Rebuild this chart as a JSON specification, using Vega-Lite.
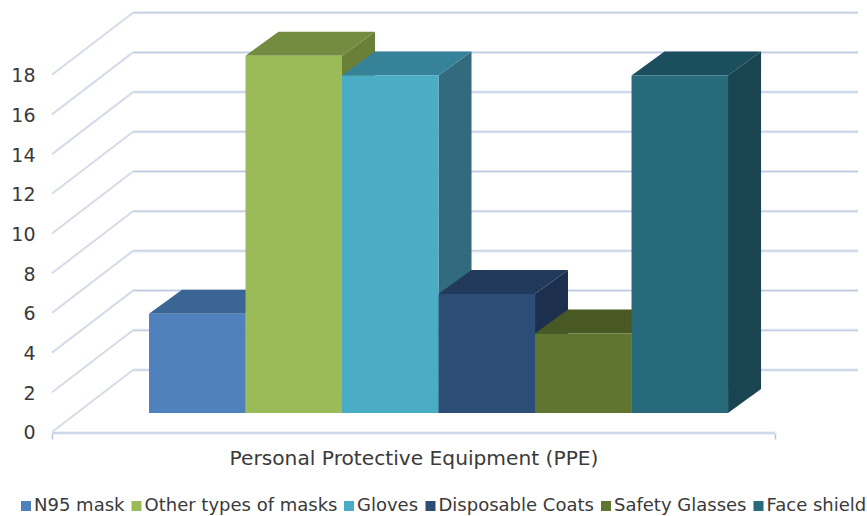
{
  "$schema": "https://vega.github.io/schema/vega-lite/v6.json",
  "width": 867,
  "height": 516,
  "padding": 0,
  "autosize": "none",
  "background": "white",
  "datasets": {
    "ppe": [
      {"item": "N95 mask", "value": 5},
      {"item": "Other types of masks", "value": 18},
      {"item": "Gloves", "value": 17},
      {"item": "Disposable Coats", "value": 6},
      {"item": "Safety Glasses", "value": 4},
      {"item": "Face shield", "value": 17}
    ],
    "ticks": [
      {"tick": 0}, {"tick": 2}, {"tick": 4}, {"tick": 6}, {"tick": 8},
      {"tick": 10}, {"tick": 12}, {"tick": 14}, {"tick": 16}, {"tick": 18}
    ],
    "floor": [{"edge": "front"}]
  },
  "encoding": {
    "x": {"type": "quantitative", "scale": {"domain": [-1.544, 7.44], "nice": false, "zero": false}},
    "y": {"type": "quantitative", "scale": {"domain": [-4.232, 21.763], "nice": false, "zero": false}}
  },
  "layer": [
    {
      "description": "Slanted part of the gridlines, running across the side wall",
      "data": {"name": "ticks"},
      "transform": [{"calculate": "datum.tick + 3.123", "as": "back"}, {"calculate": "-1.005", "as": "wallFront"}, {"calculate": "-0.166", "as": "wallBack"}],
      "mark": {"type": "rule", "stroke": "#D5DCE8", "strokeWidth": 2},
      "encoding": {
        "x": {"field": "wallFront", "type": "quantitative", "axis": {"values": [-1.005, 6.487], "orient": "bottom", "offset": -83, "domain": false, "grid": false, "labels": false, "ticks": true, "tickSize": 6, "tickColor": "#B4C3DA", "tickWidth": 1.5, "title": "Personal Protective Equipment (PPE)", "titleFont": "DejaVu Sans", "titleFontSize": 20.2, "titleFontWeight": "normal", "titleColor": "#3A3A3A", "titleX": 413.5, "titleY": 31, "titleAnchor": "middle", "titleAlign": "center", "titleBaseline": "alphabetic"}},
        "x2": {"field": "wallBack"},
        "y": {"field": "tick", "type": "quantitative", "axis": {"values": [0, 2, 4, 6, 8, 10, 12, 14, 16, 18], "title": null, "orient": "left", "offset": -35, "domain": false, "ticks": false, "grid": false, "labelPadding": 0, "labelOffset": 1, "labelFont": "DejaVu Sans", "labelFontSize": 19, "labelColor": "#3A3A3A"}},
        "y2": {"field": "back"}
      }
    },
    {
      "description": "Gridlines along the back wall, soft halo",
      "data": {"name": "ticks"},
      "transform": [{"calculate": "datum.tick + 3.123", "as": "back"}, {"calculate": "-0.166", "as": "wallBack"}, {"calculate": "7.347", "as": "wallEnd"}],
      "mark": {"type": "rule", "stroke": "#E6EBF3", "strokeWidth": 3},
      "encoding": {
        "x": {"field": "wallBack", "type": "quantitative"},
        "x2": {"field": "wallEnd"},
        "y": {"field": "back", "type": "quantitative"}
      }
    },
    {
      "description": "Gridlines along the back wall, core line",
      "data": {"name": "ticks"},
      "transform": [{"calculate": "datum.tick + 3.123", "as": "back"}, {"calculate": "-0.166", "as": "wallBack"}, {"calculate": "7.347", "as": "wallEnd"}],
      "mark": {"type": "rule", "stroke": "#B9C8DE", "strokeWidth": 1},
      "encoding": {
        "x": {"field": "wallBack", "type": "quantitative"},
        "x2": {"field": "wallEnd"},
        "y": {"field": "back", "type": "quantitative"}
      }
    },
    {
      "description": "Front edge of the floor, soft halo",
      "data": {"name": "floor"},
      "mark": {"type": "rule", "stroke": "#E0E7F1", "strokeWidth": 3},
      "encoding": {
        "x": {"datum": -1.005, "type": "quantitative"},
        "x2": {"datum": 6.487},
        "y": {"datum": -0.05, "type": "quantitative"}
      }
    },
    {
      "description": "Front edge of the floor, core line",
      "data": {"name": "floor"},
      "mark": {"type": "rule", "stroke": "#B9C8DE", "strokeWidth": 1},
      "encoding": {
        "x": {"datum": -1.005, "type": "quantitative"},
        "x2": {"datum": 6.487},
        "y": {"datum": -0.05, "type": "quantitative"}
      }
    },
    {
      "description": "Right-hand faces of the columns, sheared back along the depth axis",
      "data": {"name": "ppe"},
      "transform": [
        {"window": [{"op": "row_number", "as": "rank"}]},
        {"calculate": "[0, 1]", "as": "t"},
        {"flatten": ["t"]},
        {"calculate": "datum.rank + datum.t * 0.342", "as": "sx"},
        {"calculate": "0.957 + datum.t * 1.209", "as": "sy0"},
        {"calculate": "datum.value + datum.sy0", "as": "sy1"}
      ],
      "mark": {"type": "area", "interpolate": "linear"},
      "encoding": {
        "x": {"field": "sx", "type": "quantitative"},
        "y": {"field": "sy1", "type": "quantitative", "stack": null},
        "y2": {"field": "sy0"},
        "fill": {"field": "item", "type": "nominal", "legend": null, "scale": {"domain": ["N95 mask", "Other types of masks", "Gloves", "Disposable Coats", "Safety Glasses", "Face shield"], "range": ["#335880", "#6A7F38", "#316B7D", "#1C304D", "#3F4D20", "#194450"]}}
      }
    },
    {
      "description": "Top faces of the columns",
      "data": {"name": "ppe"},
      "transform": [
        {"window": [{"op": "row_number", "as": "rank"}]},
        {"calculate": "[0, 1]", "as": "t"},
        {"flatten": ["t"]},
        {"calculate": "datum.rank - 1 + datum.t * 0.342", "as": "tx0"},
        {"calculate": "datum.rank + datum.t * 0.342", "as": "tx1"},
        {"calculate": "datum.value + 0.957 + datum.t * 1.209", "as": "ty"}
      ],
      "mark": {"type": "area", "orient": "horizontal", "interpolate": "linear"},
      "encoding": {
        "x": {"field": "tx0", "type": "quantitative", "stack": null},
        "x2": {"field": "tx1"},
        "y": {"field": "ty", "type": "quantitative"},
        "fill": {"field": "item", "type": "nominal", "legend": null, "scale": {"domain": ["N95 mask", "Other types of masks", "Gloves", "Disposable Coats", "Safety Glasses", "Face shield"], "range": ["#3A6595", "#738C3F", "#358299", "#21395A", "#495924", "#1C4F5D"]}}
      }
    },
    {
      "description": "Front faces of the columns, carrying the legend",
      "data": {"name": "ppe"},
      "transform": [
        {"window": [{"op": "row_number", "as": "rank"}]},
        {"calculate": "datum.rank - 1", "as": "left"},
        {"calculate": "0.957", "as": "base"},
        {"calculate": "datum.value + 0.957", "as": "top"}
      ],
      "mark": {"type": "bar"},
      "encoding": {
        "x": {"field": "left", "type": "quantitative"},
        "x2": {"field": "rank"},
        "y": {"field": "top", "type": "quantitative"},
        "y2": {"field": "base"},
        "color": {
          "field": "item",
          "type": "nominal",
          "scale": {"domain": ["N95 mask", "Other types of masks", "Gloves", "Disposable Coats", "Safety Glasses", "Face shield"], "range": ["#4F81BD", "#9BBB59", "#4BACC6", "#2C4D75", "#5F7530", "#276A7C"]},
          "legend": {"orient": "none", "legendX": 17, "legendY": 497, "direction": "horizontal", "columns": 6, "title": null, "symbolType": "square", "symbolSize": 100, "symbolStrokeWidth": 0, "labelFont": "DejaVu Sans", "labelFontSize": 18, "labelColor": "#3A3A3A", "labelOffset": -1, "columnPadding": 2.5, "labelLimit": 300, "padding": 0}
        }
      }
    }
  ],
  "resolve": {"scale": {"fill": "independent", "color": "independent"}},
  "config": {"view": {"stroke": null}}
}
